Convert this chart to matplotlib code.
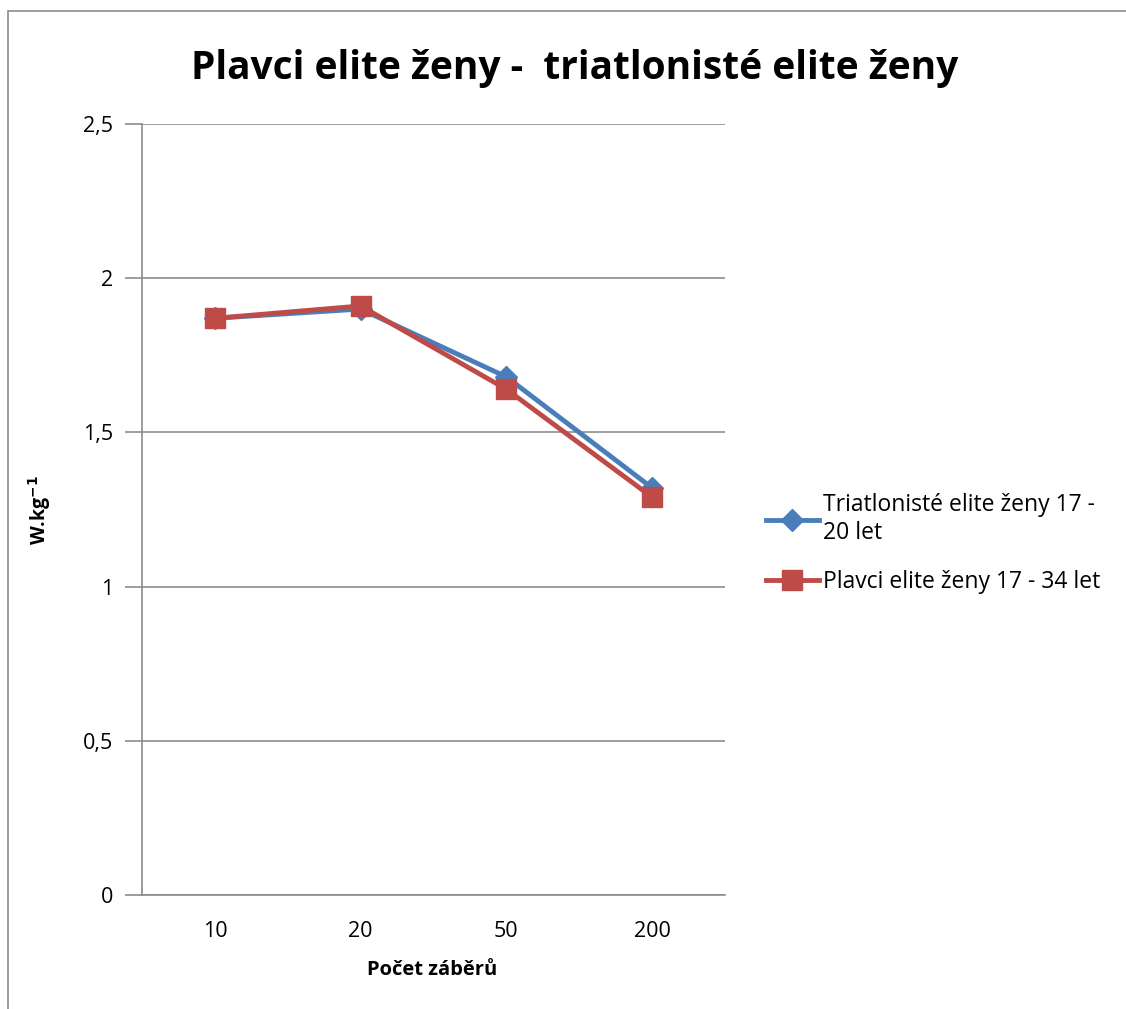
import matplotlib.pyplot as plt
from matplotlib.patches import Rectangle

plt.rcParams['font.family'] = ['Open Sans', 'DejaVu Sans']

categories = ['10', '20', '50', '200']
triatlon = [1.87, 1.90, 1.68, 1.32]
plavci = [1.87, 1.91, 1.64, 1.29]
labels = ['Triatlonisté elite ženy 17 -\n20 let', 'Plavci elite ženy 17 - 34 let']
yticks = [0, 0.5, 1, 1.5, 2, 2.5]
ytick_labels = ['0', '0,5', '1', '1,5', '2', '2,5']

fig = plt.figure(figsize=(11.26, 10.09), dpi=100)
fig.patches.append(Rectangle((8/1126, -0.1), 1.2, 1 - 11/1009 + 0.1, transform=fig.transFigure,
                             fill=False, edgecolor='#8c8c8c', linewidth=1.2))
ax = fig.add_axes([142/1126, 1 - 895/1009, 583/1126, 771/1009])

x = range(len(categories))
ax.plot(x, triatlon, color='#4A7EBB', linewidth=3.5, marker='D', markersize=11,
        label=labels[0], zorder=3)
ax.plot(x, plavci, color='#BE4B48', linewidth=3.5, marker='s', markersize=14,
        label=labels[1], zorder=4)

ax.set_xlim(-0.5, len(categories) - 0.5)
ax.set_ylim(0, 2.5)
ax.set_xticks(list(x))
ax.set_xticklabels(categories, fontsize=15.5)
ax.set_yticks(yticks)
ax.set_yticklabels(ytick_labels, fontsize=15.5)
ax.tick_params(axis='x', length=0, pad=19)
ax.tick_params(axis='y', length=12, color='#8c8c8c', width=1.2, pad=9)
ax.yaxis.grid(True, color='#8c8c8c', linewidth=1.2)
ax.set_axisbelow(True)
for s in ['top', 'right']:
    ax.spines[s].set_visible(False)
for s in ['left', 'bottom']:
    ax.spines[s].set_color('#8c8c8c')
    ax.spines[s].set_linewidth(1.2)

fig.text(575/1126, 1 - 68/1009, 'Plavci elite ženy -  triatlonisté elite ženy',
         ha='center', va='center', fontsize=28, fontweight='bold')
fig.text(40/1126, 1 - 510/1009, 'W.kg$^{\\mathbf{-1}}$', rotation=90, ha='center', va='center',
         fontsize=14, fontweight='bold')
fig.text(432/1126, 1 - 970/1009, 'Počet záběrů', ha='center', va='center',
         fontsize=14.5, fontweight='bold')

ax.legend(loc='upper left', bbox_to_anchor=((766 - 142) / 583, (895 - 493) / 771), frameon=False,
          fontsize=16.5, handlelength=2.3, handletextpad=0.2, labelspacing=1.1,
          borderaxespad=0, borderpad=0)

fig.savefig('out.png', dpi=100)
